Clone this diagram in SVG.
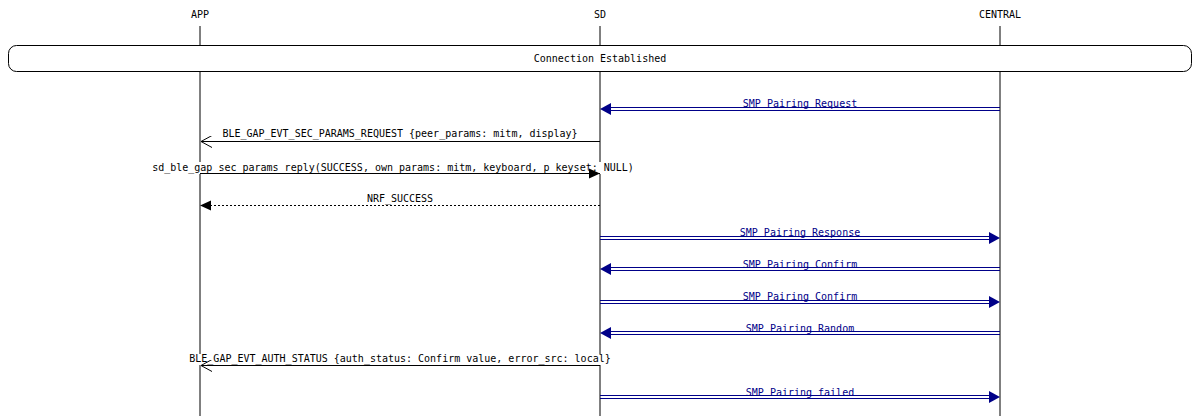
<svg xmlns="http://www.w3.org/2000/svg" width="1200" height="416" viewBox="0 0 1200 416">
<style>
text{font-family:"DejaVu Sans Mono","Liberation Mono",monospace;font-size:10px;text-anchor:middle}
.ll{stroke:#000;stroke-width:1}
.m{stroke:#000;stroke-width:1;fill:none}
.b{stroke:#000088;stroke-width:1;fill:none}
.bt{fill:#000088}
</style>
<defs>
<marker id="fa" markerWidth="12" markerHeight="12" refX="11" refY="6" orient="auto" markerUnits="userSpaceOnUse"><path d="M0,1 L11,6 L0,11 Z" fill="#000"/></marker>
<marker id="oa" markerWidth="12" markerHeight="12" refX="11" refY="6" orient="auto" markerUnits="userSpaceOnUse"><path d="M0,0 L11,6 L0,12" fill="none" stroke="#000"/></marker>
</defs>
<g id="lifelines">
<text x="200" y="18">APP</text><text x="600" y="18">SD</text><text x="1000" y="18">CENTRAL</text>
<line class="ll" x1="200" y1="26" x2="200" y2="416"/>
<line class="ll" x1="600" y1="26" x2="600" y2="416"/>
<line class="ll" x1="1000" y1="26" x2="1000" y2="416"/>
</g>
<g id="conn-established">
<rect x="8.5" y="45.5" width="1183" height="26" rx="8" fill="#fff" stroke="#000"/>
<text x="600" y="62">Connection Established</text>
</g>
<g id="connectors">
<g class="bt">
<text x="800" y="107">SMP Pairing Request</text>
<text x="800" y="236">SMP Pairing Response</text>
<text x="800" y="268">SMP Pairing Confirm</text>
<text x="800" y="300">SMP Pairing Confirm</text>
<text x="800" y="332">SMP Pairing Random</text>
<text x="800" y="396">SMP Pairing failed</text>
</g>
<!-- SMP double lines -->
<path class="b" d="M610,107.5H1000M610,110.5H1000"/><path class="bt" d="M600,109 L611,103 L611,115 Z"/>
<path class="b" d="M600,236.5H990M600,239.5H990"/><path class="bt" d="M1000,238 L989,232 L989,244 Z"/>
<path class="b" d="M610,267.5H1000M610,270.5H1000"/><path class="bt" d="M600,269 L611,263 L611,275 Z"/>
<path class="b" d="M600,300.5H990M600,303.5H990"/><path class="bt" d="M1000,302 L989,296 L989,308 Z"/>
<path class="b" d="M610,331.5H1000M610,334.5H1000"/><path class="bt" d="M600,333 L611,327 L611,339 Z"/>
<path class="b" d="M600,395.5H990M600,398.5H990"/><path class="bt" d="M1000,397 L989,391 L989,403 Z"/>
<text x="400" y="137">BLE_GAP_EVT_SEC_PARAMS_REQUEST {peer_params: mitm, display}</text>
<line class="m" x1="600" y1="141.5" x2="201" y2="141.5" marker-end="url(#oa)"/>
<rect x="146" y="162" width="492" height="12" fill="#fff"/>
<text x="393" y="171">sd_ble_gap_sec_params_reply(SUCCESS, own_params: mitm, keyboard, p_keyset: NULL)</text>
<line class="m" x1="200" y1="173.5" x2="600" y2="173.5" marker-end="url(#fa)"/>
<text x="400" y="202">NRF_SUCCESS</text>
<line class="m" x1="600" y1="205.5" x2="200" y2="205.5" stroke-dasharray="2,2" marker-end="url(#fa)"/>
<rect x="190" y="354" width="420" height="11" fill="#fff"/>
<text x="400" y="362">BLE_GAP_EVT_AUTH_STATUS {auth_status: Confirm value, error_src: local}</text>
<line class="m" x1="600" y1="365.5" x2="201" y2="365.5" marker-end="url(#oa)"/>
</g>
</svg>
